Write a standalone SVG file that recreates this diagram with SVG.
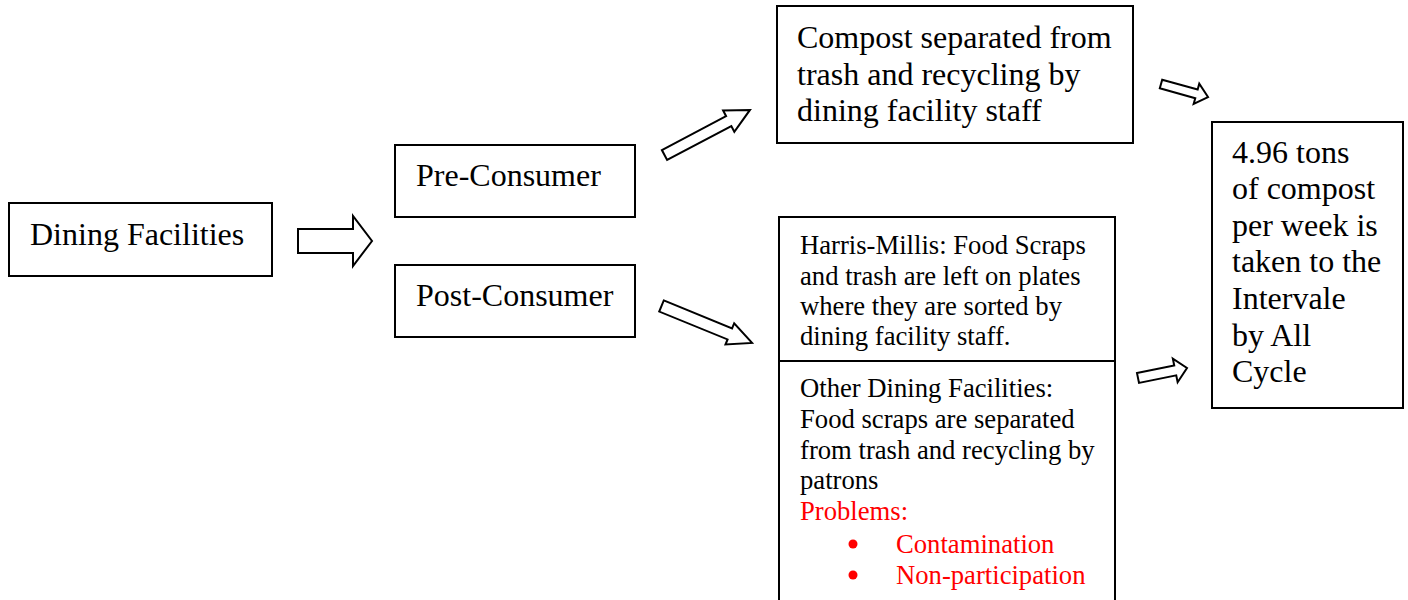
<svg xmlns="http://www.w3.org/2000/svg" width="1408" height="600" viewBox="0 0 1408 600">
<style>
.box{fill:#fff;stroke:#000;stroke-width:2}
.arr{fill:#fff;stroke:#000;stroke-width:2;stroke-linejoin:miter}
.t{font-family:"Liberation Serif","Times New Roman",serif;font-size:32px;fill:#000}
.s{font-family:"Liberation Serif","Times New Roman",serif;font-size:26.67px;fill:#000}
.r{fill:#f00}
</style>
<rect x="0" y="0" width="1408" height="600" fill="#fff"/>
<g id="dining">
<rect class="box" x="9" y="203" width="263" height="73"/>
<text class="t" x="30" y="245">Dining Facilities</text>
</g>
<g id="pre">
<rect class="box" x="395" y="145" width="240" height="72"/>
<text class="t" x="416" y="186">Pre-Consumer</text>
</g>
<g id="post">
<rect class="box" x="395" y="265" width="240" height="72"/>
<text class="t" x="416" y="306">Post-Consumer</text>
</g>
<g id="compost">
<rect class="box" x="777" y="6" width="356" height="137"/>
<text class="t" x="797" y="48">Compost separated from</text>
<text class="t" x="797" y="85">trash and recycling by</text>
<text class="t" x="797" y="121">dining facility staff</text>
</g>
<g id="harris">
<rect class="box" x="779" y="217" width="336" height="400"/>
<line x1="779" y1="361" x2="1115" y2="361" stroke="#000" stroke-width="2"/>
<text class="s" x="800" y="254">Harris-Millis: Food Scraps</text>
<text class="s" x="800" y="285">and trash are left on plates</text>
<text class="s" x="800" y="315">where they are sorted by</text>
<text class="s" x="800" y="345">dining facility staff.</text>
</g>
<g id="other">
<text class="s" x="800" y="397">Other Dining Facilities:</text>
<text class="s" x="800" y="428">Food scraps are separated</text>
<text class="s" x="800" y="459">from trash and recycling by</text>
<text class="s" x="800" y="489">patrons</text>
<text class="s r" x="800" y="520">Problems:</text>
<circle cx="853" cy="544" r="4.5" fill="#f00"/>
<text class="s r" x="896" y="553">Contamination</text>
<circle cx="853" cy="575" r="4.5" fill="#f00"/>
<text class="s r" x="896" y="584">Non-participation</text>
</g>
<g id="result">
<rect class="box" x="1212" y="122" width="191" height="286"/>
<text class="t" x="1232" y="163">4.96 tons</text>
<text class="t" x="1232" y="199">of compost</text>
<text class="t" x="1232" y="236">per week is</text>
<text class="t" x="1232" y="272">taken to the</text>
<text class="t" x="1232" y="309">Intervale</text>
<text class="t" x="1232" y="346">by All</text>
<text class="t" x="1232" y="382">Cycle</text>
</g>
<g id="connectors">
<polygon class="arr" transform="translate(298,241)" points="0,-12 55,-12 55,-25 74,0 55,25 55,12 0,12"/>
<polygon class="arr" transform="translate(664.5,155) rotate(-27.8)" points="0,-5.6 72.6,-5.6 72.6,-12 96.6,0 72.6,12 72.6,5.6 0,5.6"/>
<polygon class="arr" transform="translate(661.5,306) rotate(22.2)" points="0,-6 73.8,-6 73.8,-11.5 97.8,0 73.8,11.5 73.8,6 0,6"/>
<polygon class="arr" transform="translate(1161,84) rotate(15.5)" points="0,-4.5 36.8,-4.5 36.8,-10.5 48.8,0 36.8,10.5 36.8,4.5 0,4.5"/>
<polygon class="arr" transform="translate(1138,378) rotate(-11.5)" points="0,-5 38,-5 38,-12 50,0 38,12 38,5 0,5"/>
</g>
</svg>
